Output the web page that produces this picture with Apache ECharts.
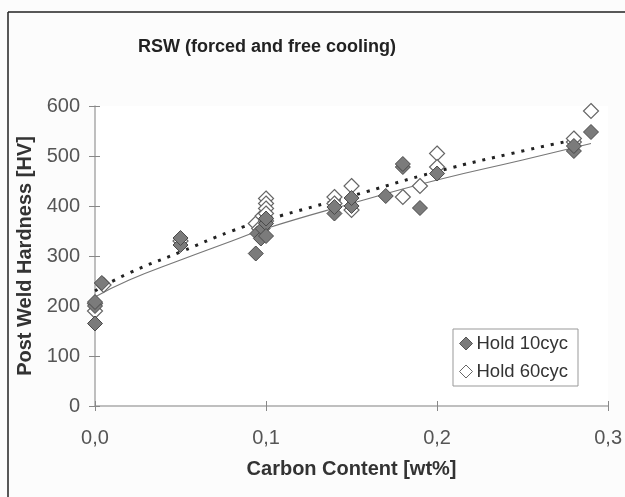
<!DOCTYPE html>
<html><head><meta charset="utf-8">
<script src="https://cdn.jsdelivr.net/npm/echarts@6/dist/echarts.min.js"></script>
<style>html,body{margin:0;padding:0;background:#fafafa;}#c{width:625px;height:497px;}</style>
</head><body><div id="c"></div>
<script>
const title = 'RSW (forced and free cooling)';
const seriesNames = ['Hold 10cyc', 'Hold 60cyc'];
const xTickLabels = ['0,0', '0,1', '0,2', '0,3'];

const hold10X = [0, 0, 0, 0.004, 0.05, 0.05, 0.094, 0.095, 0.097, 0.098, 0.1, 0.1, 0.1, 0.14, 0.14, 0.15, 0.15, 0.17, 0.18, 0.18, 0.19, 0.2, 0.28, 0.28, 0.29];
const hold10Y = [165, 200, 208, 246, 322, 336, 305, 345, 335, 355, 365, 375, 340, 385, 398, 400, 416, 420, 478, 484, 396, 465, 510, 520, 548];

const hold60X = [0, 0, 0.005, 0.05, 0.094, 0.096, 0.098, 0.1, 0.1, 0.1, 0.1, 0.1, 0.14, 0.14, 0.15, 0.15, 0.18, 0.19, 0.2, 0.2, 0.28, 0.28, 0.29];
const hold60Y = [190, 205, 242, 330, 365, 355, 380, 415, 405, 395, 385, 370, 418, 405, 440, 392, 418, 440, 505, 478, 528, 535, 590];

// trend lines
const trend10X = [0, 0.02, 0.05, 0.08, 0.1, 0.15, 0.2, 0.25, 0.29];
const trend10Y = [218, 252, 292, 330, 355, 405, 452, 492, 525];
const trend60X = [0, 0.02, 0.05, 0.08, 0.1, 0.15, 0.2, 0.25, 0.28];
const trend60Y = [230, 266, 308, 350, 372, 420, 469, 510, 532];

const zip = (a, b) => a.map((v, i) => [v, b[i]]);

const chart = echarts.init(document.getElementById('c'));
const FONT = 'Liberation Sans, Arial, sans-serif';
chart.setOption({
  backgroundColor: '#fcfcfc',
  animation: false,
  title: {
    text: title, left: 262, top: 33, textAlign: 'center',
    textStyle: {fontFamily: FONT, fontSize: 18, fontWeight: 'bold', color: '#222'}
  },
  graphic: [
    {type: 'line', shape: {x1: 8, y1: 12, x2: 625, y2: 12}, style: {stroke: '#222', lineWidth: 1.5}},
    {type: 'line', shape: {x1: 8, y1: 12, x2: 8, y2: 497}, style: {stroke: '#222', lineWidth: 1.5}}
  ],
  grid: {left: 95, right: 14, top: 106, bottom: 91, show: true, backgroundColor: '#fff', borderWidth: 0},
  legend: {
    data: [
      {name: seriesNames[0], icon: 'diamond', itemStyle: {color: '#7b7b7b', borderColor: '#555', borderWidth: 1}},
      {name: seriesNames[1], icon: 'diamond', itemStyle: {color: '#fff', borderColor: '#666', borderWidth: 1}}
    ],
    orient: 'vertical', left: 453, top: 329, itemWidth: 13, itemHeight: 13, itemGap: 9,
    padding: [5, 10, 5, 6], borderColor: '#999', borderWidth: 1, backgroundColor: '#fff',
    textStyle: {fontFamily: FONT, fontSize: 18.5, color: '#333', padding: [0, 0, 0, -1]}
  },
  xAxis: [{
    type: 'value', min: 0, max: 0.3, interval: 0.1,
    name: 'Carbon Content [wt%]', nameLocation: 'middle', nameGap: 53,
    nameTextStyle: {fontFamily: FONT, fontSize: 20, fontWeight: 'bold', color: '#333'},
    axisLine: {lineStyle: {color: '#aaa', width: 1.5}},
    axisTick: {show: true, length: 5, lineStyle: {color: '#888'}},
    axisLabel: {fontFamily: FONT, fontSize: 20, color: '#555', margin: 22,
      formatter: v => xTickLabels[Math.round(v * 10)]},
    splitLine: {show: false}
  }, {
    type: 'value', min: 0, max: 0.3, interval: 0.1, position: 'bottom',
    axisLine: {show: false}, axisLabel: {show: false}, splitLine: {show: false},
    axisTick: {show: true, inside: true, length: 5, lineStyle: {color: '#888'}}
  }],
  yAxis: [{
    type: 'value', min: 0, max: 600, interval: 100,
    name: 'Post Weld Hardness [HV]', nameLocation: 'middle', nameGap: 60,
    nameTextStyle: {fontFamily: FONT, fontSize: 20, fontWeight: 'bold', color: '#333'},
    axisLine: {show: true, lineStyle: {color: '#aaa', width: 1.5}},
    axisTick: {show: true, length: 6, lineStyle: {color: '#888'}},
    axisLabel: {fontFamily: FONT, fontSize: 20, color: '#555', margin: 15},
    splitLine: {show: false}
  }, {
    type: 'value', min: 0, max: 600, interval: 100, position: 'left',
    axisLine: {show: false}, axisLabel: {show: false}, splitLine: {show: false},
    axisTick: {show: true, inside: true, length: 5, lineStyle: {color: '#888'}}
  }],
  series: [
    {name: 'trend10', type: 'line', data: zip(trend10X, trend10Y), smooth: true, showSymbol: false,
      lineStyle: {color: '#777', width: 1.2}, z: 1, silent: true},
    {name: 'trend60', type: 'line', data: zip(trend60X, trend60Y), smooth: true, showSymbol: false,
      lineStyle: {color: '#222', width: 3, type: [3, 7]}, z: 1, silent: true},
    {name: seriesNames[1], type: 'scatter', data: zip(hold60X, hold60Y), symbol: 'diamond', symbolSize: 15,
      itemStyle: {color: '#fff', borderColor: '#666', borderWidth: 1.2, opacity: 1}, z: 3},
    {name: seriesNames[0], type: 'scatter', data: zip(hold10X, hold10Y), symbol: 'diamond', symbolSize: 15,
      itemStyle: {color: '#7b7b7b', borderColor: '#4a4a4a', borderWidth: 1, opacity: 1}, z: 4}
  ]
});
</script></body></html>
